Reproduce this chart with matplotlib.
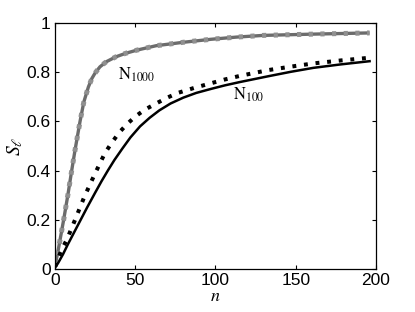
import numpy as np
import matplotlib
matplotlib.use("Agg")
import matplotlib.pyplot as plt

plt.rcParams['font.family'] = ['Liberation Sans', 'DejaVu Sans']
plt.rcParams['mathtext.fontset'] = 'stix'
plt.rcParams['lines.scale_dashes'] = False

# values
n_1000 = [0, 2, 5.4, 8, 10.4, 12.5, 15.6, 18, 20.8, 23, 25, 28, 32, 38, 44, 51,
          63, 80, 97, 113, 130, 160, 196]
s_1000 = [0.01, 0.077, 0.2, 0.3, 0.4, 0.484, 0.6, 0.68, 0.74, 0.775, 0.797, 0.822,
          0.843, 0.863, 0.877, 0.89, 0.908, 0.922, 0.934, 0.943, 0.95, 0.955, 0.96]

n_100_dot = [0, 4, 7.3, 12.5, 18.3, 24.5, 31, 35, 40, 45, 50, 56, 63, 70, 77, 87,
             97, 106, 115, 124, 133, 147, 161, 178, 196]
s_100_dot = [0.01, 0.077, 0.118, 0.2, 0.294, 0.382, 0.47, 0.51, 0.555, 0.59, 0.62,
             0.648, 0.673, 0.697, 0.717, 0.737, 0.755, 0.771, 0.785, 0.797, 0.809,
             0.823, 0.836, 0.848, 0.859]

n_100 = [0, 2, 5, 8, 12, 16, 20, 25, 29, 33, 37, 42, 47, 53, 59, 65, 72, 80, 88,
         97, 106, 115, 124, 133, 147, 161, 178, 196]
s_100 = [0.005, 0.025, 0.06, 0.1, 0.15, 0.2, 0.25, 0.31, 0.357, 0.401, 0.443, 0.49,
         0.535, 0.58, 0.615, 0.645, 0.673, 0.697, 0.716, 0.732, 0.747, 0.76, 0.772,
         0.784, 0.802, 0.818, 0.832, 0.845]

xticks = [0, 50, 100, 150, 200]
yticks = [0, 0.2, 0.4, 0.6, 0.8, 1]
ytick_labels = ['0', '0.2', '0.4', '0.6', '0.8', '1']

fig = plt.figure(figsize=(4.15, 3.12), dpi=100)
ax = fig.add_axes([0.1325, 0.1378, 0.7735, 0.7882])

# gray curve: dark line with lighter square dots on top
ax.plot(n_1000, s_1000, color='#6c6c6c', lw=2.4, solid_capstyle='butt')
ax.plot(n_1000, s_1000, color='#909090', lw=3.6, dashes=(3.0, 5.4),
        dash_capstyle='butt')

ax.plot(n_100_dot, s_100_dot, color='black', lw=2.9, dashes=(2.8, 5.6),
        dash_capstyle='butt')
ax.plot(n_100, s_100, color='black', lw=1.8)

ax.text(39, 0.77, r'$\mathrm{N}_{1000}$', fontsize=12)
ax.text(111, 0.69, r'$\mathrm{N}_{100}$', fontsize=12)

ax.set_xlim(0, 200)
ax.set_ylim(0, 1)
ax.set_xticks(xticks)
ax.set_yticks(yticks)
ax.set_yticklabels(ytick_labels)
ax.tick_params(direction='in', length=3, width=0.8, top=True, right=True,
               labelsize=12.5, pad=3)
for sp in ax.spines.values():
    sp.set_linewidth(0.9)

ax.set_xlabel(r'$n$', fontsize=13, labelpad=0)
ax.set_ylabel(r'$S_\ell$', fontsize=14, labelpad=1)

fig.savefig('out.png', dpi=100)
